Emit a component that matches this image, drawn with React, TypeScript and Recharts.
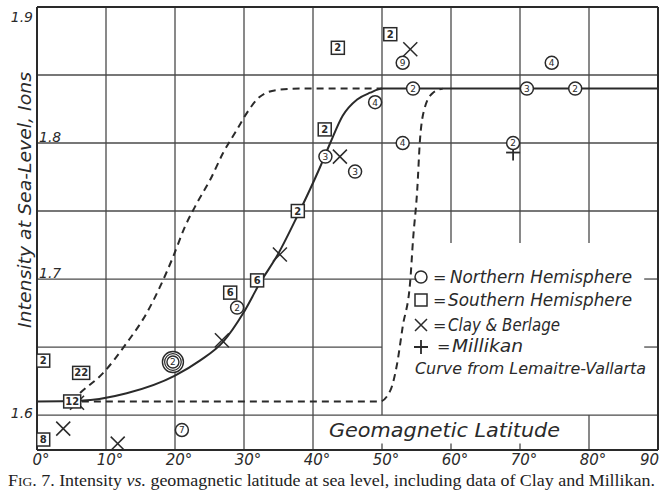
import React from "react";
import { ComposedChart, Line, Scatter, XAxis, YAxis, ReferenceLine } from "recharts";

// geomagnetic latitude (deg) vs intensity at sea level (ions)
const latTicks = [0, 10, 20, 30, 40, 50, 60, 70, 80, 90];
const intensityTicks = [1.6, 1.7, 1.8, 1.9];

const observedCurve: [number, number][] = [
  [0, 1.61], [6.2, 1.6105], [13, 1.616], [20, 1.629], [23.6, 1.64], [27, 1.654],
  [29.9, 1.675], [32.3, 1.697], [34.9, 1.718], [37.7, 1.746], [41, 1.782],
  [42.5, 1.8], [44.3, 1.82], [46.4, 1.832], [48.3, 1.837], [50.1, 1.84], [90, 1.84],
];

const lemaitreLow: [number, number][] = [
  [5, 1.61], [6.2, 1.616], [9.6, 1.631], [13, 1.653], [15.9, 1.675], [17.8, 1.694],
  [19.7, 1.716], [21.4, 1.738], [23.2, 1.756], [25.1, 1.773], [27, 1.793],
  [29, 1.81], [30.4, 1.822], [32.3, 1.834], [34.8, 1.839], [38.1, 1.84], [50, 1.84],
];

const lemaitreHigh: [number, number][] = [
  [6.5, 1.61], [49.7, 1.61], [51.2, 1.618], [52.2, 1.638], [53, 1.665], [54.1, 1.699],
  [54.5, 1.729], [55.1, 1.765], [55.5, 1.802], [56.2, 1.826], [57.4, 1.837], [58.8, 1.84],
];

// [lat, intensity, number of readings]
const northern: [number, number, string][] = [
  [53, 1.859, "9"], [54.5, 1.84, "2"], [49, 1.83, "4"], [53, 1.8, "4"], [46.1, 1.779, "3"],
  [71, 1.84, "3"], [78, 1.84, "2"], [74.6, 1.859, "4"], [69, 1.8, "2"], [41.8, 1.79, "3"],
  [29, 1.679, "2"], [21, 1.589, "7"],
];
const northernRinged: [number, number, string][] = [[19.7, 1.639, "2"]];

const southern: [number, number, string][] = [
  [43.6, 1.87, "2"], [51.2, 1.88, "2"], [41.7, 1.81, "2"], [37.8, 1.75, "2"],
  [31.9, 1.699, "6"], [28, 1.69, "6"], [0.9, 1.64, "2"], [6.4, 1.631, "22"],
  [5.1, 1.61, "12"], [0.9, 1.582, "8"],
];

const clayBerlage: [number, number][] = [
  [54.1, 1.869], [43.9, 1.79], [35.2, 1.718], [26.8, 1.655], [5.8, 1.609], [3.8, 1.59], [11.7, 1.579],
];

const millikan: [number, number][] = [[69, 1.793]];

const toPts = (a: [number, number][]) => a.map(([lat, val]) => ({ lat, val }));
const toMarks = (a: [number, number, string][]) => a.map(([lat, val, n]) => ({ lat, val, n }));

const INK = "#2a2a2a";
const GRID = "#4a4a4a";
const HAND = "'DejaVu Sans', sans-serif";
const Y_MIN = 1.5743;

const CircleMark = (p: any) => {
  const { cx, cy, payload } = p;
  return (
    <g>
      <circle cx={cx} cy={cy} r={6.5} fill="#fff" stroke={INK} strokeWidth={1.5} />
      <text x={cx} y={cy + 3.3} textAnchor="middle" fontSize={9} fontFamily={HAND} fill={INK}>{payload.n}</text>
    </g>
  );
};

const RingMark = (p: any) => {
  const { cx, cy, payload } = p;
  return (
    <g>
      <circle cx={cx} cy={cy} r={10.5} fill="#fff" stroke={INK} strokeWidth={1.4} />
      <circle cx={cx} cy={cy} r={8.3} fill="none" stroke={INK} strokeWidth={1.2} />
      <circle cx={cx} cy={cy} r={6} fill="none" stroke={INK} strokeWidth={1.4} />
      <text x={cx} y={cy + 3.3} textAnchor="middle" fontSize={9} fontFamily={HAND} fill={INK}>{payload.n}</text>
    </g>
  );
};

const SquareMark = (p: any) => {
  const { cx, cy, payload } = p;
  const w = payload.n.length > 1 ? 17 : 13;
  return (
    <g>
      <rect x={cx - w / 2} y={cy - 6.5} width={w} height={13} fill="#fff" stroke={INK} strokeWidth={1.5} />
      <text x={cx} y={cy + 3.5} textAnchor="middle" fontSize={10} fontFamily={HAND} fontWeight="bold" fill={INK}>{payload.n}</text>
    </g>
  );
};

const CrossMark = (p: any) => {
  const { cx, cy } = p;
  const d = 7;
  return (
    <g stroke={INK} strokeWidth={1.5}>
      <line x1={cx - d} y1={cy - d} x2={cx + d} y2={cy + d} />
      <line x1={cx - d} y1={cy + d} x2={cx + d} y2={cy - d} />
    </g>
  );
};

const PlusMark = (p: any) => {
  const { cx, cy } = p;
  return (
    <g stroke={INK} strokeWidth={1.8}>
      <line x1={cx - 7} y1={cy} x2={cx + 7} y2={cy} />
      <line x1={cx} y1={cy - 6} x2={cx} y2={cy + 8} />
    </g>
  );
};

const XTick = (p: any) => {
  const { x, payload } = p;
  const last = payload.value === 90;
  return (
    <text x={last ? 659 : x + 4} y={465} textAnchor={last ? "end" : "middle"} fontSize={15} fontStyle="italic" fontFamily={HAND} fill={INK}>
      {last ? "90" : payload.value + "°"}
    </text>
  );
};

const YTick = (p: any) => {
  const { y, payload } = p;
  const v = Number(payload.value);
  const outside = v > 1.85 || v < 1.65;
  return (
    <text
      x={outside ? 33 : 39}
      y={v > 1.85 ? y + 13 : outside ? y + 3 : y - 1}
      textAnchor={outside ? "end" : "start"}
      fontSize={14}
      fontStyle="italic"
      fontFamily={HAND}
      fill={INK}
    >
      {v.toFixed(1)}
    </text>
  );
};

// grid pieces, broken where the legend and axis title sit
const hSegs: [number, number, number][] = [
  [1.85, 0, 90], [1.8, 0, 90], [1.75, 0, 90], [1.7, 0, 55], [1.7, 88, 90],
  [1.65, 0, 50], [1.65, 88, 90], [1.6, 0, 90],
];
const vSegs: [number, number, number][] = [
  [10, Y_MIN, 1.9], [20, Y_MIN, 1.9], [30, Y_MIN, 1.9], [40, Y_MIN, 1.9],
  [50, 1.6, 1.9], [50, Y_MIN, 1.579], [60, 1.7265, 1.9], [60, Y_MIN, 1.579],
  [70, 1.7265, 1.9], [70, Y_MIN, 1.579], [80, 1.7265, 1.9], [80, Y_MIN, 1.6],
];

export default function App() {
  return (
    <div style={{ position: "absolute", left: 0, top: 0, width: 661, height: 495, background: "#fff" }}>
      <ComposedChart width={661} height={495} margin={{ top: 7, right: 3, left: 0, bottom: 15 }}>
        <XAxis
          dataKey="lat"
          type="number"
          domain={[0, 90]}
          ticks={latTicks}
          tick={<XTick />}
          tickLine={false}
          axisLine={{ stroke: INK, strokeWidth: 2 }}
          height={30}
          allowDataOverflow
        />
        <YAxis
          dataKey="val"
          type="number"
          domain={[Y_MIN, 1.9]}
          ticks={intensityTicks}
          tick={<YTick />}
          tickLine={false}
          axisLine={{ stroke: INK, strokeWidth: 2 }}
          width={37}
          allowDataOverflow
        />
        {hSegs.map(([y, a, b], i) => (
          <ReferenceLine key={"h" + i} segment={[{ x: a, y }, { x: b, y }]} stroke={GRID} strokeWidth={1.3} />
        ))}
        {vSegs.map(([x, a, b], i) => (
          <ReferenceLine key={"v" + i} segment={[{ x, y: a }, { x, y: b }]} stroke={GRID} strokeWidth={1.3} />
        ))}
        <ReferenceLine segment={[{ x: 0, y: 1.9 }, { x: 90, y: 1.9 }]} stroke={INK} strokeWidth={2} />
        <ReferenceLine segment={[{ x: 90, y: Y_MIN }, { x: 90, y: 1.9 }]} stroke={INK} strokeWidth={2} />
        <Line data={toPts(lemaitreLow)} dataKey="val" type="monotone" stroke={INK} strokeWidth={2} strokeDasharray="7 5" dot={false} isAnimationActive={false} />
        <Line data={toPts(lemaitreHigh)} dataKey="val" type="monotone" stroke={INK} strokeWidth={2} strokeDasharray="7 5" dot={false} isAnimationActive={false} />
        <Line data={toPts(observedCurve)} dataKey="val" type="monotone" stroke={INK} strokeWidth={2} dot={false} isAnimationActive={false} />
        <Scatter data={toPts(clayBerlage)} dataKey="val" shape={<CrossMark />} isAnimationActive={false} />
        <Scatter data={toPts(millikan)} dataKey="val" shape={<PlusMark />} isAnimationActive={false} />
        <Scatter data={toMarks(southern)} dataKey="val" shape={<SquareMark />} isAnimationActive={false} />
        <Scatter data={toMarks(northern)} dataKey="val" shape={<CircleMark />} isAnimationActive={false} />
        <Scatter data={toMarks(northernRinged)} dataKey="val" shape={<RingMark />} isAnimationActive={false} />
      </ComposedChart>

      <svg width={661} height={495} style={{ position: "absolute", left: 0, top: 0, pointerEvents: "none" }}>
        <g fontFamily={HAND} fontStyle="italic" fill={INK}>
          <text transform="translate(31,200) rotate(-90)" textAnchor="middle" fontSize={17} textLength={256} lengthAdjust="spacingAndGlyphs">
            Intensity at Sea-Level, Ions
          </text>
          <text x={329} y={437} fontSize={19} textLength={231} lengthAdjust="spacingAndGlyphs">Geomagnetic Latitude</text>

          <circle cx={421} cy={277} r={6} fill="none" stroke={INK} strokeWidth={1.5} />
          <text x={433} y={283} fontSize={16}>=</text>
          <text x={450} y={283} fontSize={17} textLength={182} lengthAdjust="spacingAndGlyphs">Northern Hemisphere</text>

          <rect x={415} y={294} width={12} height={12} fill="none" stroke={INK} strokeWidth={1.5} />
          <text x={433} y={306} fontSize={16}>=</text>
          <text x={448} y={306} fontSize={17} textLength={184} lengthAdjust="spacingAndGlyphs">Southern Hemisphere</text>

          <path d="M415 319 L427 331 M415 331 L427 319" stroke={INK} strokeWidth={1.5} fill="none" />
          <text x={433} y={331} fontSize={16}>=</text>
          <text x={448} y={331} fontSize={17} textLength={112} lengthAdjust="spacingAndGlyphs">Clay &amp; Berlage</text>

          <path d="M414 347 L428 347 M421 340 L421 354" stroke={INK} strokeWidth={1.8} fill="none" />
          <text x={437} y={352} fontSize={16}>=</text>
          <text x={452} y={352} fontSize={17} textLength={71} lengthAdjust="spacingAndGlyphs">Millikan</text>

          <text x={415} y={374} fontSize={16} textLength={231} lengthAdjust="spacingAndGlyphs">Curve from Lemaitre-Vallarta</text>
        </g>
        <text x={8} y={486} fontFamily="'Liberation Serif', serif" fontSize={16} fill="#222" textLength={647} lengthAdjust="spacingAndGlyphs">
          F<tspan fontSize={12}>IG</tspan>. 7. Intensity <tspan fontStyle="italic">vs.</tspan> geomagnetic latitude at sea level, including data of Clay and Millikan.
        </text>
      </svg>
    </div>
  );
}
